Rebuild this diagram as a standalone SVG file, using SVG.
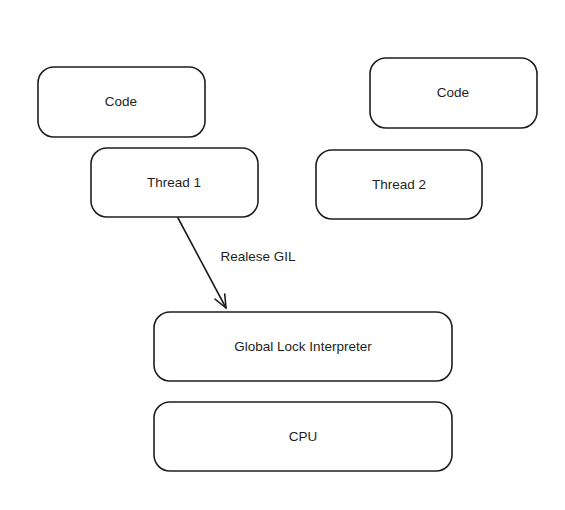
<svg xmlns="http://www.w3.org/2000/svg" width="565" height="510" viewBox="0 0 565 510">
<defs>
<marker id="arr" markerWidth="16" markerHeight="16" refX="14" refY="8" orient="auto" markerUnits="userSpaceOnUse">
<path d="M1,2.5 L14,8 L1,13.5" fill="none" stroke="#1e1e1e" stroke-width="1.6" stroke-linecap="round" stroke-linejoin="round"/>
</marker>
</defs>
<style>
.box{fill:#ffffff;stroke:#1e1e1e;stroke-width:1.6}
.t{font-family:"Liberation Sans","DejaVu Sans",sans-serif;font-size:13.5px;fill:#1e1e1e;text-anchor:middle;dominant-baseline:central}
.edge{fill:none;stroke:#1e1e1e;stroke-width:1.6;stroke-linecap:round}
</style>
<rect width="565" height="510" fill="#ffffff"/>
<g id="code1"><rect class="box" x="38" y="67" width="167" height="70" rx="16"/><text class="t" x="121" y="101">Code</text></g>
<g id="thread1"><rect class="box" x="91" y="148" width="167" height="69" rx="16"/><text class="t" x="174" y="182">Thread 1</text></g>
<g id="code2"><rect class="box" x="370" y="58" width="167" height="70" rx="16"/><text class="t" x="453" y="92">Code</text></g>
<g id="thread2"><rect class="box" x="316" y="150" width="166" height="69" rx="16"/><text class="t" x="399" y="184">Thread 2</text></g>
<g id="gil"><rect class="box" x="154" y="312" width="298" height="69" rx="16"/><text class="t" x="303" y="346">Global Lock Interpreter</text></g>
<g id="cpu"><rect class="box" x="154" y="402" width="298" height="69" rx="16"/><text class="t" x="303" y="436">CPU</text></g>
<g id="connectors">
<path class="edge" d="M178,218 L226,308" marker-end="url(#arr)"/>
<text class="t" x="258" y="256">Realese GIL</text>
</g>
</svg>
